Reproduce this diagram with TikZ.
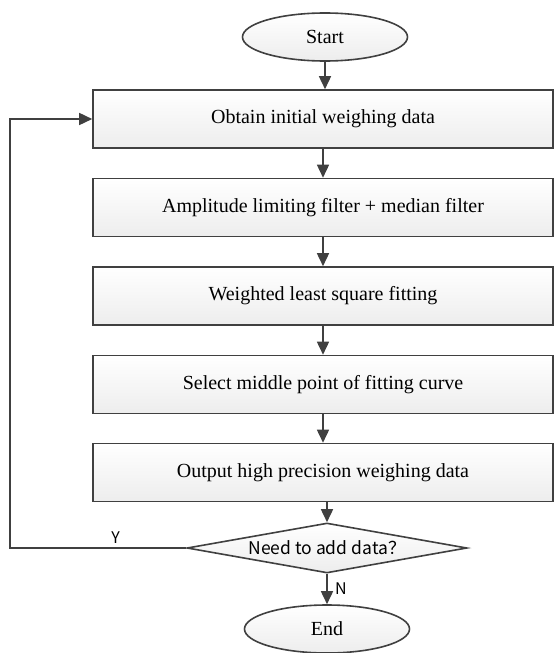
\documentclass[tikz,border=0pt]{standalone}
\usepackage{fontspec}
\setmainfont{Liberation Serif}
\newfontfamily\cjkfont{Noto Sans CJK SC}
\usetikzlibrary{shapes.geometric,arrows.meta,positioning}
\definecolor{flowline}{HTML}{404040}
\definecolor{flowfill}{HTML}{EDEDED}

\tikzset{
  procbox/.style={draw=flowline, line width=1.6pt, top color=white, bottom color=flowfill,
    minimum width=460pt, minimum height=58pt, inner sep=0pt, font=\fontsize{20}{22}\selectfont},
  termnode/.style={ellipse, draw=flowline, line width=1.6pt, top color=white, bottom color=flowfill,
    minimum width=165pt, minimum height=48pt, inner sep=0pt, font=\fontsize{20}{22}\selectfont},
  decnode/.style={diamond, draw=flowline, line width=1.6pt, top color=white, bottom color=flowfill,
    aspect=5.6, minimum width=280pt, minimum height=50pt, inner sep=0pt, font=\cjkfont\fontsize{17.5}{19}\selectfont},
  flowarrow/.style={draw=flowline, line width=1.6pt, -{Triangle[length=13pt,width=12pt]}}
}

\begin{document}
\begin{tikzpicture}[x=1pt,y=-1pt]
\useasboundingbox (0,0) rectangle (554,653);
\node[termnode] (start) at (325,37) {Start};
\node[procbox] (obtain) at (323,119) {Obtain initial weighing data};
\node[procbox] (filter) at (323,207.5) {Amplitude limiting filter + median filter};
\node[procbox] (fit) at (323,296) {Weighted least square fitting};
\node[procbox] (select) at (323,384.5) {Select middle point of fitting curve};
\node[procbox] (output) at (323,472.5) {Output high precision weighing data};
\node[decnode] (need) at (327,548) {Need to add data？};
\node[termnode] (finish) at (327,629) {End};
\coordinate (loopdn) at (10,548);
\coordinate (loopup) at (10,119);

\draw[flowarrow] (start) -- (start|-obtain.north);
\draw[flowarrow] (obtain) -- (obtain|-filter.north);
\draw[flowarrow] (filter) -- (filter|-fit.north);
\draw[flowarrow] (fit) -- (fit|-select.north);
\draw[flowarrow] (select) -- (select|-output.north);
\draw[flowarrow] (output.south-|need) -- (need.north);
\draw[flowarrow] (need) -- node[right=4pt, font=\cjkfont\fontsize{16}{18}\selectfont] {N} (finish);
\draw[flowarrow] (need.west) -- node[above, pos=0.4, font=\cjkfont\fontsize{16}{18}\selectfont] {Y} (loopdn) -- (loopup) -- (obtain.west);
\end{tikzpicture}
\end{document}
